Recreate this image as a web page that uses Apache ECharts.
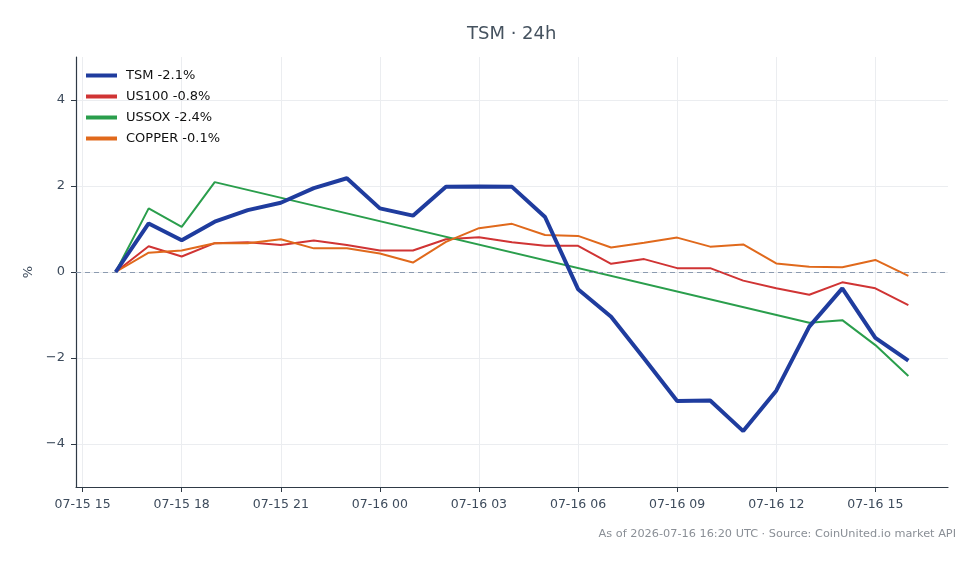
<!DOCTYPE html>
<html>
<head>
<meta charset="utf-8">
<script src="https://cdn.jsdelivr.net/npm/echarts@6/dist/echarts.min.js"></script>
<style>
html,body{margin:0;padding:0;background:#fff;}
#chart{width:980px;height:564px;}
</style>
</head>
<body>
<div id="chart"></div>
<script>
// hours counted from 07-15 00:00 UTC
var hours=[16,17,18,19,20,21,22,23,24,25,26,27,28,29,30,31,32,33,34,35,36,37,38,39,40];
var tickHours=[15,18,21,24,27,30,33,36,39];
var yTicks=[-4,-2,0,2,4];
var tsm=[0,1.13,0.74,1.17,1.44,1.61,1.95,2.18,1.48,1.31,1.98,1.99,1.98,1.28,-0.40,-1.04,-2.01,-3.00,-2.99,-3.70,-2.76,-1.27,-0.38,-1.53,-2.06];
var us100=[0,0.60,0.36,0.67,0.69,0.63,0.73,0.63,0.50,0.50,0.76,0.81,0.69,0.61,0.61,0.19,0.30,0.09,0.09,-0.20,-0.38,-0.53,-0.24,-0.38,-0.77];
var ussox=[0,1.48,1.05,2.09,null,null,null,null,null,null,null,null,null,null,null,null,null,null,null,null,null,-1.18,-1.12,-1.70,-2.42];
var copper=[0,0.45,0.50,0.67,0.67,0.76,0.55,0.55,0.43,0.22,0.70,1.02,1.12,0.86,0.84,0.57,0.68,0.80,0.59,0.64,0.20,0.12,0.11,0.28,-0.09];
var names=['TSM -2.1%','US100 -0.8%','USSOX -2.4%','COPPER -0.1%'];
var colors=['#1f3c9e','#d03434','#2a9e4c','#e0691c'];

function pair(arr){
	return arr.map(function(v,i){return [hours[i],v];});
}
function hourLabel(h){
	var day=h>=24?'07-16':'07-15';
	var hh=h%24;
	return day+' '+(hh<10?'0'+hh:hh);
}
var textColor='#3d4b5c';
var font='DejaVu Sans';

var chart=echarts.init(document.getElementById('chart'));
chart.setOption({
	animation:false,
	textStyle:{fontFamily:font},
	title:[{
		text:'TSM · 24h',
		left:462,top:20,
		textStyle:{fontFamily:font,fontSize:18,fontWeight:'normal',color:'#45525f'}
	},{
		text:'As of 2026-07-16 16:20 UTC · Source: CoinUnited.io market API',
		right:19,top:524,
		textStyle:{fontFamily:font,fontSize:11.3,fontWeight:'normal',color:'#8a8f96'}
	}],
	legend:{
		orient:'vertical',left:81,top:64,
		itemWidth:31,itemHeight:4,itemGap:8,
		icon:'rect',
		textStyle:{fontFamily:font,fontSize:13,color:'#111',padding:[0,0,0,4]},
		data:names
	},
	grid:{left:76,right:32,top:57,bottom:77},
	xAxis:{
		type:'value',min:14.8,max:41.2,
		axisLine:{onZero:false,lineStyle:{color:'#2f3a46',width:1.2}},
		axisTick:{show:true,length:5,lineStyle:{color:'#2f3a46'},customValues:tickHours},
		axisLabel:{customValues:tickHours,color:textColor,fontSize:12.5,margin:11,fontFamily:font,
			formatter:function(v){return hourLabel(v);}},
		splitLine:{show:true,lineStyle:{color:'#ebedf0',width:1}}
	},
	yAxis:{
		type:'value',min:-5,max:5,
		name:'%',nameLocation:'middle',nameGap:40,nameRotate:90,
		nameTextStyle:{color:textColor,fontSize:13,fontFamily:font},
		axisLine:{show:true,onZero:false,lineStyle:{color:'#2f3a46',width:1.2}},
		axisTick:{show:true,length:5,lineStyle:{color:'#2f3a46'},customValues:yTicks},
		axisLabel:{customValues:yTicks,color:textColor,fontSize:13,margin:11,fontFamily:font,
			formatter:function(v){return v<0?'\u2212'+Math.abs(v):String(v);}},
		splitLine:{show:true,lineStyle:{color:'#ebedf0',width:1}}
	},
	series:[{
		name:names[0],type:'line',data:pair(tsm),symbol:'none',z:5,
		lineStyle:{color:colors[0],width:4},itemStyle:{color:colors[0]},
		markLine:{silent:true,symbol:'none',label:{show:false},
			lineStyle:{color:'#8c9bb0',type:[5,4],width:1.2},data:[{yAxis:0}]}
	},{
		name:names[1],type:'line',data:pair(us100),symbol:'none',
		lineStyle:{color:colors[1],width:2},itemStyle:{color:colors[1]}
	},{
		name:names[2],type:'line',data:pair(ussox),symbol:'none',connectNulls:true,
		lineStyle:{color:colors[2],width:2},itemStyle:{color:colors[2]}
	},{
		name:names[3],type:'line',data:pair(copper),symbol:'none',
		lineStyle:{color:colors[3],width:2},itemStyle:{color:colors[3]}
	}]
});
</script>
</body>
</html>
